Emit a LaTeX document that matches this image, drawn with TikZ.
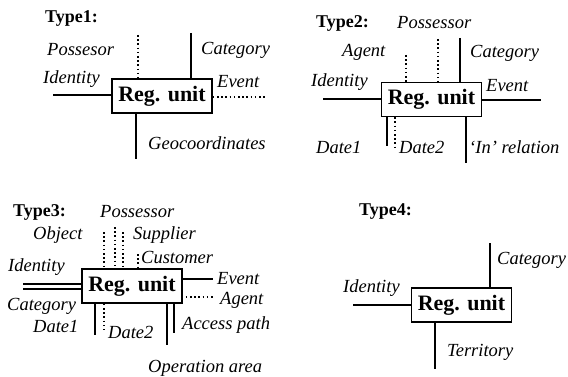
\documentclass[tikz,border=0pt]{standalone}
\usepackage{fontspec}
\setmainfont{Liberation Serif}
\usetikzlibrary{positioning}

\begin{document}
\begin{tikzpicture}[x=1pt, y=-1pt,
    unit/.style={draw, line width=1.6pt, minimum width=100pt,
                 minimum height=34pt, inner sep=0pt,
                 font=\fontsize{22}{22}\selectfont\bfseries},
    title/.style={anchor=west, inner sep=0pt,
                  font=\fontsize{18}{18}\selectfont\bfseries},
    lbl/.style={anchor=west, inner sep=0pt,
                font=\fontsize{18.5}{18.5}\selectfont\itshape},
    link/.style={line width=1.6pt},
    dotlink/.style={line width=1.6pt, dash pattern=on 1.6pt off 2.6pt}
  ]
    \useasboundingbox (0,0) rectangle (568,377);

    % Type1
    \node[title] (ty1) at (45,19) {Type1:};
    \node[unit] (t1) at (162,96) {Reg. unit};
    \coordinate (t1pos) at (138,35);
    \coordinate (t1cat) at (191,33);
    \coordinate (t1id) at (53,95);
    \coordinate (t1ev) at (267,97);
    \coordinate (t1geo) at (136,159);
    \draw[dotlink] (t1pos) -- (t1pos |- t1.north);
    \draw[link] (t1cat) -- (t1cat |- t1.north);
    \draw[link] (t1id) -- (t1id -| t1.west);
    \draw[dotlink] (t1ev -| t1.east) -- (t1ev);
    \draw[link] (t1geo |- t1.south) -- (t1geo);
    \node[lbl] (t1posl) at (47,50) {Possesor};
    \node[lbl] (t1catl) at (201,50) {Category};
    \node[lbl] (t1idl) at (43,79) {Identity};
    \node[lbl] (t1evl) at (217,82) {Event};
    \node[lbl] (t1geol) at (148,143) {Geocoordinates};

    % Type2
    \node[title] (ty2) at (316,23) {Type2:};
    \node[unit] (t2) at (431.5,99.5) {Reg. unit};
    \coordinate (t2ag) at (406,55);
    \coordinate (t2pos) at (438,39);
    \coordinate (t2cat) at (460,38);
    \coordinate (t2id) at (323,99);
    \coordinate (t2ev) at (541,100);
    \coordinate (t2d1) at (387,146);
    \coordinate (t2d2) at (395,147);
    \coordinate (t2in) at (466,163);
    \draw[dotlink] (t2ag) -- (t2ag |- t2.north);
    \draw[dotlink] (t2pos) -- (t2pos |- t2.north);
    \draw[link] (t2cat) -- (t2cat |- t2.north);
    \draw[link] (t2id) -- (t2id -| t2.west);
    \draw[link] (t2ev -| t2.east) -- (t2ev);
    \draw[link] (t2d1 |- t2.south) -- (t2d1);
    \draw[dotlink] (t2d2 |- t2.south) -- (t2d2);
    \draw[link] (t2in |- t2.south) -- (t2in);
    \node[lbl] (t2posl) at (397,23) {Possessor};
    \node[lbl] (t2agl) at (342,52) {Agent};
    \node[lbl] (t2catl) at (470,53) {Category};
    \node[lbl] (t2idl) at (311,82) {Identity};
    \node[lbl] (t2evl) at (486,86) {Event};
    \node[lbl] (t2d1l) at (316,147) {Date1};
    \node[lbl] (t2d2l) at (399,147) {Date2};
    \node[lbl] (t2inl) at (469,147) {`In' relation};

    % Type3
    \node[title] (ty3) at (13,212) {Type3:};
    \node[unit] (t3) at (132,286) {Reg. unit};
    \coordinate (t3obj) at (104,232);
    \coordinate (t3pos) at (115,227);
    \coordinate (t3sup) at (123,232);
    \coordinate (t3cus) at (138,254);
    \coordinate (t3id) at (23,284);
    \coordinate (t3cat) at (23,289);
    \coordinate (t3ev) at (213,279);
    \coordinate (t3ag) at (213,297);
    \coordinate (t3d1) at (95,335);
    \coordinate (t3d2) at (104,330);
    \coordinate (t3op) at (167,345);
    \coordinate (t3acc) at (174,333);
    \draw[dotlink] (t3obj) -- (t3obj |- t3.north);
    \draw[dotlink] (t3pos) -- (t3pos |- t3.north);
    \draw[dotlink] (t3sup) -- (t3sup |- t3.north);
    \draw[dotlink] (t3cus) -- (t3cus |- t3.north);
    \draw[link] (t3id) -- (t3id -| t3.west);
    \draw[link] (t3cat) -- (t3cat -| t3.west);
    \draw[link] (t3ev -| t3.east) -- (t3ev);
    \draw[dotlink] ([xshift=3pt]t3ag -| t3.east) -- (t3ag);
    \draw[link] (t3d1 |- t3.south) -- (t3d1);
    \draw[dotlink] (t3d2 |- t3.south) -- (t3d2);
    \draw[link] (t3op |- t3.south) -- (t3op);
    \draw[link] (t3acc |- t3.south) -- (t3acc);
    \node[lbl] (t3posl) at (100,212) {Possessor};
    \node[lbl] (t3objl) at (33,235) {Object};
    \node[lbl] (t3supl) at (133,235) {Supplier};
    \node[lbl] (t3cusl) at (141,257) {Customer};
    \node[lbl] (t3idl) at (8,267) {Identity};
    \node[lbl] (t3catl) at (7,306) {Category};
    \node[lbl] (t3evl) at (217,279) {Event};
    \node[lbl] (t3agl) at (220,300) {Agent};
    \node[lbl] (t3d1l) at (33,326) {Date1};
    \node[lbl] (t3d2l) at (108,332) {Date2};
    \node[lbl] (t3accl) at (182,325) {Access path};
    \node[lbl] (t3opl) at (148,368) {Operation area};

    % Type4
    \node[title] (ty4) at (359,212) {Type4:};
    \node[unit] (t4) at (461.5,305) {Reg. unit};
    \coordinate (t4cat) at (490,243);
    \coordinate (t4id) at (353,305);
    \coordinate (t4ter) at (435,369);
    \draw[link] (t4cat) -- (t4cat |- t4.north);
    \draw[link] (t4id) -- (t4id -| t4.west);
    \draw[link] (t4ter |- t4.south) -- (t4ter);
    \node[lbl] (t4catl) at (497,260) {Category};
    \node[lbl] (t4idl) at (343,288) {Identity};
    \node[lbl] (t4terl) at (447,352) {Territory};
\end{tikzpicture}
\end{document}
